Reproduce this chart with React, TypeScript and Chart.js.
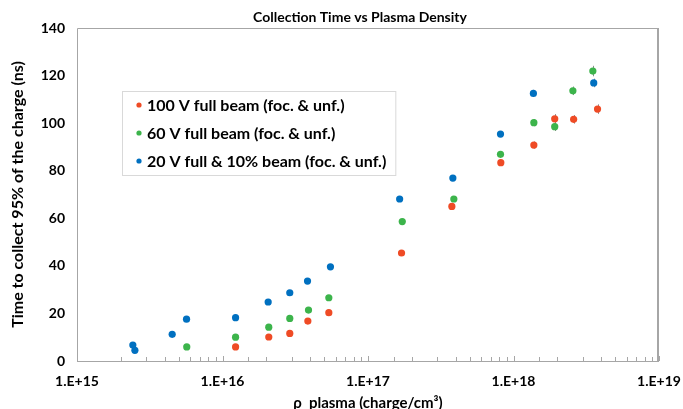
import React, { useEffect, useRef } from 'react';
import { Chart, registerables } from 'chart.js';

Chart.register(...registerables);

const chartTitle = 'Collection Time vs Plasma Density';
const xTitle = 'ρ_plasma (charge/cm³)';
const yTitle = 'Time to collect 95% of the charge (ns)';

const xMin = 1e15;
const xMax = 1e19;
const xTickLabels = ['1.E+15', '1.E+16', '1.E+17', '1.E+18', '1.E+19'];
const yTickValues = [0, 20, 40, 60, 80, 100, 120, 140];

const seriesLabels = [
  '100 V full beam (foc. & unf.)',
  '60 V full beam (foc. & unf.)',
  '20 V full & 10% beam (foc. & unf.)',
];
const seriesColors = ['#EF4B25', '#3CB44B', '#0070C0'];

const redX = [1.23e16, 2.08e16, 2.9e16, 3.86e16, 5.38e16, 1.7e17, 3.77e17, 8.18e17, 1.38e18, 1.92e18, 2.59e18, 3.78e18];
const redY = [5.9, 10.1, 11.6, 16.8, 20.3, 45.4, 65.0, 83.4, 90.8, 101.8, 101.6, 105.9];
const redErr = [0.5, 0.5, 0.5, 0.5, 0.6, 0.8, 1, 1, 1.5, 2, 1.8, 2];

const greenX = [5.68e15, 1.23e16, 2.08e16, 2.9e16, 3.9e16, 5.38e16, 1.72e17, 3.89e17, 8.14e17, 1.38e18, 1.92e18, 2.56e18, 3.51e18];
const greenY = [5.9, 10.0, 14.2, 17.9, 21.4, 26.6, 58.6, 68.1, 86.9, 100.2, 98.5, 113.6, 121.9];
const greenErr = [0.5, 0.5, 0.5, 0.5, 0.5, 0.6, 0.8, 1, 1.2, 1.5, 1.8, 1.8, 2.2];

const blueX = [2.42e15, 2.5e15, 4.51e15, 5.66e15, 1.23e16, 2.06e16, 2.9e16, 3.84e16, 5.52e16, 1.65e17, 3.83e17, 8.14e17, 1.37e18, 3.56e18];
const blueY = [6.7, 4.5, 11.2, 17.6, 18.2, 24.8, 28.7, 33.6, 39.6, 68.1, 76.9, 95.4, 112.5, 116.9];
const blueErr = [0.5, 0.5, 0.5, 0.5, 0.5, 0.5, 0.5, 0.6, 0.6, 0.8, 1, 1.2, 1.5, 1.8];

const seriesX = [redX, greenX, blueX];
const seriesY = [redY, greenY, blueY];
const seriesErr = [redErr, greenErr, blueErr];

const FONT = 'Lato, "Open Sans", sans-serif';
const AXIS_GRAY = '#A6A6A6';

const decorPlugin = {
  id: 'decor',
  beforeDatasetsDraw(chart: any) {
    const { ctx, scales } = chart;
    const xs = scales.x;
    const ys = scales.y;
    ctx.save();
    ctx.strokeStyle = '#8C8C8C';
    ctx.lineWidth = 1;
    seriesX.forEach((arr, si) => {
      arr.forEach((xv, i) => {
        const e = seriesErr[si][i];
        const px = Math.round(xs.getPixelForValue(xv)) + 0.5;
        const y1 = ys.getPixelForValue(seriesY[si][i] - e);
        const y2 = ys.getPixelForValue(seriesY[si][i] + e);
        ctx.beginPath();
        ctx.moveTo(px, y1);
        ctx.lineTo(px, y2);
        ctx.stroke();
      });
    });
    ctx.restore();
  },
  afterDraw(chart: any) {
    const { ctx, chartArea, scales } = chart;
    const xs = scales.x;
    const { left, right, top, bottom } = chartArea;
    ctx.save();
    ctx.strokeStyle = AXIS_GRAY;
    ctx.lineWidth = 1;
    ctx.beginPath();
    ctx.moveTo(left + 0.5, bottom + 0.5);
    ctx.lineTo(left + 0.5, top + 0.5);
    ctx.lineTo(right - 0.5, top + 0.5);
    ctx.stroke();
    ctx.beginPath();
    ctx.moveTo(left, bottom + 0.5);
    ctx.lineTo(right, bottom + 0.5);
    ctx.stroke();
    ctx.lineWidth = 2;
    ctx.beginPath();
    ctx.moveTo(right - 1, top);
    ctx.lineTo(right - 1, bottom + 1);
    ctx.stroke();
    ctx.lineWidth = 1;
    xs.ticks.forEach((t: any) => {
      const e = Math.log10(t.value);
      const major = Math.abs(e - Math.round(e)) < 1e-9;
      const px = Math.round(xs.getPixelForValue(t.value)) + 0.5;
      ctx.beginPath();
      ctx.moveTo(px, bottom);
      ctx.lineTo(px, bottom - (major ? 5 : 4));
      ctx.stroke();
    });
    ctx.fillStyle = '#000';
    ctx.font = `bold 14px ${FONT}`;
    ctx.textAlign = 'center';
    ctx.textBaseline = 'alphabetic';
    ctx.fillText(chartTitle, (left + right) / 2 - 8, top - 6);
    ctx.font = `bold 16px ${FONT}`;
    const widths = seriesLabels.map((s) => ctx.measureText(s).width);
    const maxW = Math.max(...widths);
    const bx = left + 45;
    const by = top + 63;
    const bw = 25 + maxW + 9;
    const bh = 84;
    ctx.fillStyle = '#fff';
    ctx.fillRect(bx, by, bw, bh);
    ctx.strokeStyle = '#D9D9D9';
    ctx.lineWidth = 1;
    ctx.strokeRect(bx + 0.5, by + 0.5, bw, bh);
    seriesLabels.forEach((lab, i) => {
      const cy = by + 14 + i * 28;
      ctx.fillStyle = seriesColors[i];
      ctx.beginPath();
      ctx.arc(bx + 17, cy, 2.6, 0, Math.PI * 2);
      ctx.fill();
      ctx.fillStyle = '#000';
      ctx.textAlign = 'left';
      ctx.textBaseline = 'middle';
      ctx.fillText(lab, bx + 25, cy + 1);
    });
    ctx.restore();
  },
};

export default function App() {
  const ref = useRef<HTMLCanvasElement | null>(null);

  useEffect(() => {
    if (!ref.current) return;
    const datasets = seriesLabels.map((label, si) => ({
      label,
      data: seriesX[si].map((x, i) => ({ x, y: seriesY[si][i] })),
      backgroundColor: seriesColors[si],
      borderColor: seriesColors[si],
      pointRadius: 3.6,
      pointBorderWidth: 0,
      showLine: false,
    }));
    const chart = new Chart(ref.current, {
      type: 'scatter',
      data: { datasets },
      plugins: [decorPlugin],
      options: {
        animation: false,
        responsive: false,
        devicePixelRatio: 1,
        layout: { padding: { top: 28, right: 24, bottom: 0, left: 0 } },
        plugins: {
          legend: { display: false },
          title: { display: false },
          tooltip: { enabled: false },
        },
        scales: {
          x: {
            type: 'logarithmic',
            position: 'bottom',
            min: xMin,
            max: xMax,
            grid: { display: false, drawTicks: false },
            border: { display: false },
            ticks: {
              autoSkip: false,
              maxRotation: 0,
              minRotation: 0,
              padding: 12,
              color: '#000',
              font: { family: FONT, size: 14, weight: 'bold' },
              callback: (v: any) => {
                const e = Math.log10(Number(v));
                const r = Math.round(e);
                if (Math.abs(e - r) < 1e-9) return xTickLabels[r - 15] ?? '';
                return '';
              },
            },
            title: {
              display: true,
              text: xTitle,
              color: '#000',
              font: { family: FONT, size: 15, weight: 'bold', lineHeight: 0.8 },
              padding: { top: 0, bottom: 0 },
            },
            afterFit: (s: any) => {
              s.height = 48;
              s.paddingLeft = 0;
              s.paddingRight = 0;
            },
          },
          y: {
            type: 'linear',
            min: 0,
            max: 140,
            afterBuildTicks: (s: any) => {
              s.ticks = yTickValues.map((v) => ({ value: v }));
            },
            grid: { display: false, drawTicks: false },
            border: { display: false },
            ticks: {
              padding: 12,
              color: '#000',
              font: { family: FONT, size: 14, weight: 'bold' },
            },
            title: {
              display: true,
              text: yTitle,
              color: '#000',
              font: { family: FONT, size: 16, weight: 'bold' },
              padding: { top: 8, bottom: 0 },
            },
            afterFit: (s: any) => {
              s.width = 77;
              s.paddingTop = 0;
              s.paddingBottom = 0;
            },
          },
        },
      } as any,
    });
    return () => chart.destroy();
  }, []);

  return (
    <div style={{ position: 'absolute', left: 0, top: 0, width: 683, height: 409, background: '#fff' }}>
      <canvas ref={ref} width={683} height={409} />
    </div>
  );
}
